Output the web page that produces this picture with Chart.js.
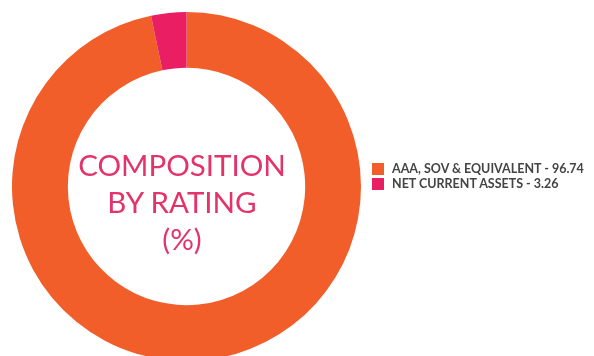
<!DOCTYPE html>
<html>
<head>
<meta charset="utf-8">
<script src="https://cdn.jsdelivr.net/npm/chart.js@4/dist/chart.umd.min.js"></script>
<style>
  html, body { margin: 0; padding: 0; background: #fff; overflow: hidden; width: 594px; height: 356px; }
  #wrap { position: absolute; left: 0; top: 0; width: 594px; height: 374px; }
  #centro {
    position: absolute; left: 72px; top: 146px; width: 220px;
    text-align: center; font-family: Lato, sans-serif; font-size: 29.5px;
    line-height: 37px; color: #e2336b;
  }
  #leyenda {
    position: absolute; left: 372px; top: 161px;
    font-family: Lato, sans-serif; font-weight: bold; font-size: 12.5px; color: #444;
  }
  .item { display: flex; align-items: center; height: 15px; white-space: nowrap; }
  .cuadro { width: 12px; height: 12px; margin-right: 8px; }
</style>
</head>
<body>
<div id="wrap"><canvas id="chart_rating" width="594" height="374"></canvas></div>
<div id="centro">COMPOSITION<br>BY RATING<br>(%)</div>
<div id="leyenda"></div>
<script>
const categorias = ["AAA, SOV & EQUIVALENT", "NET CURRENT ASSETS"];
const valores = [96.74, 3.26];
const colores = ["#f15e2a", "#e91e63"];

function cargarLeyenda() {
  let html = "";
  categorias.forEach(function (c, i) {
    html += `<div class="item"><div class="cuadro" style="background:${colores[i]}"></div>${c} - ${valores[i]}</div>`;
  });
  document.getElementById("leyenda").innerHTML = html;
}

function cargarGraficoRating() {
  let ctx = document.getElementById("chart_rating");
  new Chart(ctx, {
    type: "doughnut",
    data: {
      labels: categorias,
      datasets: [
        {
          data: valores,
          backgroundColor: colores,
          borderWidth: 0,
        },
      ],
    },
    options: {
      responsive: false,
      animation: false,
      devicePixelRatio: 1,
      cutout: "68%",
      layout: { padding: { left: 12, top: 12, right: 233, bottom: 13 } },
      plugins: {
        legend: { display: false },
        tooltip: { enabled: false },
      },
    },
  });
}

cargarLeyenda();
cargarGraficoRating();
</script>
</body>
</html>
